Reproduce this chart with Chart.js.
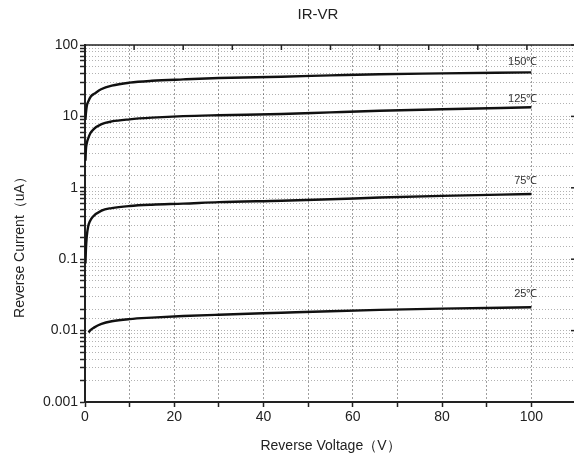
<!DOCTYPE html>
<html>
<head>
<meta charset="utf-8">
<script src="https://cdn.jsdelivr.net/npm/chart.js@4.4.1/dist/chart.umd.min.js"></script>
<style>
  html, body { margin: 0; padding: 0; background: #fff; overflow: hidden; }
  #wrap { position: relative; width: 580px; height: 459px; }
</style>
</head>
<body>
<div id="wrap"><canvas id="chart" width="580" height="459"></canvas></div>
<script>
// Reverse current vs reverse voltage
const v150 = [0.1, 0.2, 0.4, 0.7, 1.3, 2.2, 3.6, 6, 10, 15, 22, 30, 44, 55, 66, 80, 100];
const i150 = [9, 11, 14, 16, 19, 21, 24, 27, 29.7, 31.5, 33, 34.5, 36, 37.5, 39, 40, 41.4];

const v125 = [0.1, 0.2, 0.4, 0.7, 1.2, 1.9, 3.7, 6, 10, 15, 22, 30, 44, 55, 66, 80, 100];
const i125 = [2.4, 3.4, 4.2, 4.9, 5.8, 6.6, 7.8, 8.5, 9.1, 9.6, 10.1, 10.4, 10.8, 11.4, 12, 12.6, 13.4];

const v75 = [0.1, 0.2, 0.4, 0.7, 1.1, 1.7, 3.7, 6, 10, 15, 22, 30, 44, 55, 66, 80, 100];
const i75 = [0.087, 0.135, 0.21, 0.285, 0.34, 0.39, 0.48, 0.52, 0.556, 0.58, 0.6, 0.63, 0.66, 0.69, 0.73, 0.77, 0.82];

const v25 = [0.8, 1.1, 2, 3.7, 6, 10, 15, 22, 30, 44, 55, 66, 80, 100];
const i25 = [0.0094, 0.01, 0.011, 0.0124, 0.0135, 0.0145, 0.0152, 0.016, 0.0167, 0.0178, 0.0187, 0.0195, 0.0203, 0.0212];

const seriesLabels = ['150\u2103', '125\u2103', '75\u2103', '25\u2103'];
const yTickLabels = ['0.001', '0.01', '0.1', '1', '10', '100'];
const xTickLabels = ['0', '20', '40', '60', '80', '100'];

const FONT = '"Liberation Sans", Arial, sans-serif';

function pts(xs, ys) {
  return xs.map((x, i) => ({ x: x, y: ys[i] }));
}

function makeSet(label, xs, ys) {
  return {
    label: label,
    data: pts(xs, ys),
    borderColor: '#111',
    borderWidth: 2.4,
    pointRadius: 0,
    fill: false,
    cubicInterpolationMode: 'monotone',
    xAxisID: 'x',
    yAxisID: 'y'
  };
}

// frame, inner ticks on top/right, series labels, titles
const decorPlugin = {
  id: 'decor',
  afterDatasetsDraw(chart) {
    const ctx = chart.ctx;
    const a = chart.chartArea;
    const x = chart.scales.x, y = chart.scales.y, x2 = chart.scales.x2;
    ctx.save();

    // top and right frame
    ctx.strokeStyle = '#222';
    ctx.lineWidth = 1.5;
    ctx.beginPath();
    ctx.moveTo(a.left, a.top);
    ctx.lineTo(a.right, a.top);
    ctx.lineTo(a.right, a.bottom);
    ctx.stroke();

    // top ticks (own 0-100 scale across the frame)
    ctx.lineWidth = 1.5;
    for (let v = 0; v <= 100; v += 10) {
      const px = x2.getPixelForValue(v);
      ctx.beginPath();
      ctx.moveTo(px, a.top);
      ctx.lineTo(px, a.top + 5);
      ctx.stroke();
    }
    // right ticks at decades
    for (let k = 0; k < yTickLabels.length; k++) {
      const py = y.getPixelForValue(Number(yTickLabels[k]));
      ctx.beginPath();
      ctx.moveTo(a.right, py);
      ctx.lineTo(a.right - 5, py);
      ctx.stroke();
    }

    // series labels at the end of each curve
    ctx.fillStyle = '#333';
    ctx.font = '11px ' + FONT;
    ctx.textAlign = 'right';
    ctx.textBaseline = 'middle';
    const ends = [
      [v150, i150, 10], [v125, i125, 8], [v75, i75, 13], [v25, i25, 13]
    ];
    ends.forEach((e, k) => {
      const xs = e[0], ys = e[1];
      const px = x.getPixelForValue(xs[xs.length - 1]) + 6;
      const py = y.getPixelForValue(ys[ys.length - 1]) - e[2];
      ctx.fillText(seriesLabels[k], px, py);
    });

    // main title
    ctx.fillStyle = '#222';
    ctx.font = '15px ' + FONT;
    ctx.textAlign = 'center';
    ctx.fillText('IR-VR', 318, 15);

    // y axis title
    ctx.font = '14px ' + FONT;
    ctx.translate(20, 244);
    ctx.rotate(-Math.PI / 2);
    ctx.fillText('Reverse Current\uFF08uA\uFF09', 0, 0);
    ctx.restore();
  }
};

new Chart(document.getElementById('chart').getContext('2d'), {
  type: 'line',
  data: {
    datasets: [
      makeSet(seriesLabels[0], v150, i150),
      makeSet(seriesLabels[1], v125, i125),
      makeSet(seriesLabels[2], v75, i75),
      makeSet(seriesLabels[3], v25, i25)
    ]
  },
  options: {
    responsive: false,
    animation: false,
    layout: { padding: { top: 45, right: 4, left: 0, bottom: 0 } },
    plugins: {
      legend: { display: false },
      tooltip: { enabled: false }
    },
    scales: {
      x: {
        type: 'linear',
        min: 0,
        max: 110,
        afterFit: (s) => { s.height = 57; },
        ticks: {
          stepSize: 10,
          autoSkip: false,
          maxRotation: 0,
          color: '#222',
          font: { family: FONT, size: 14 },
          padding: 2,
          callback: (v) => (v % 20 === 0 && v <= 100 ? xTickLabels[v / 20] : '')
        },
        grid: {
          color: 'rgba(0,0,0,0.38)',
          lineWidth: 1,
          tickColor: '#222',
          tickLength: 5,
          tickWidth: 1.5
        },
        border: { color: '#222', width: 2, dash: [2, 2] },
        title: {
          display: true,
          text: 'Reverse Voltage\uFF08V\uFF09',
          color: '#222',
          font: { family: FONT, size: 14 },
          padding: { top: 4 }
        }
      },
      x2: {
        type: 'linear',
        display: false,
        min: 0,
        max: 100
      },
      y: {
        type: 'logarithmic',
        min: 0.001,
        max: 100,
        afterFit: (s) => { s.width = 85; },
        ticks: {
          autoSkip: false,
          color: '#222',
          font: { family: FONT, size: 14 },
          padding: 2,
          callback: (v) => {
            const e = Math.log10(v);
            if (Math.abs(e - Math.round(e)) > 1e-6) return '';
            return yTickLabels[Math.round(e) + 3];
          }
        },
        grid: {
          color: 'rgba(0,0,0,0.3)',
          lineWidth: 1,
          tickColor: '#222',
          tickLength: 5,
          tickWidth: 1.5
        },
        border: { color: '#222', width: 2, dash: [1, 2] }
      }
    }
  },
  plugins: [decorPlugin]
});
</script>
</body>
</html>
